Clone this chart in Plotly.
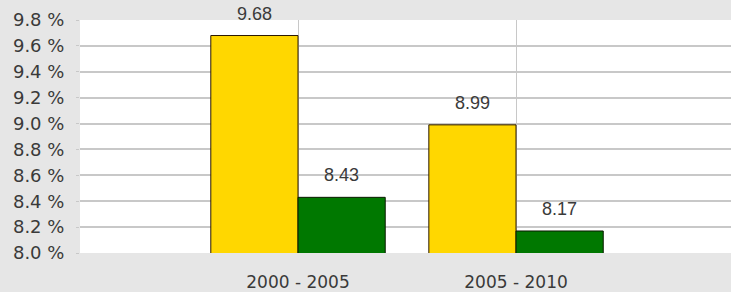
import plotly.graph_objects as go

categories = ["2000 - 2005", "2005 - 2010"]
series_a = [9.68, 8.99]
series_b = [8.43, 8.17]
y_ticks = [8.0, 8.2, 8.4, 8.6, 8.8, 9.0, 9.2, 9.4, 9.6, 9.8]
y_tick_labels = ["8.0 %", "8.2 %", "8.4 %", "8.6 %", "8.8 %", "9.0 %", "9.2 %", "9.4 %", "9.6 %", "9.8 %"]

fig = go.Figure()
fig.add_trace(go.Bar(x=categories, y=series_a, marker=dict(color="#FFD700", line=dict(color="#2a1800", width=1)),
                     hoverinfo="skip"))
fig.add_trace(go.Bar(x=categories, y=series_b, marker=dict(color="#007800", line=dict(color="#0a1a00", width=1)),
                     hoverinfo="skip"))

annotations = []
for vals, shift in ((series_a, -43.5), (series_b, 43.5)):
    for c, v in zip(categories, vals):
        annotations.append(dict(x=c, y=v, xref="x", yref="y", text=f"{v:.2f}", showarrow=False,
                                xshift=shift, yshift=10, yanchor="bottom",
                                font=dict(family="Liberation Sans, Arial", size=18, color="#3a3a3a")))

fig.update_layout(
    width=731, height=292,
    margin=dict(l=80, r=0, t=20, b=39),
    paper_bgcolor="#e6e6e6", plot_bgcolor="#ffffff",
    barmode="group", bargap=0.2, bargroupgap=0,
    showlegend=False,
    annotations=annotations,
    xaxis=dict(range=[-1, 1.986], showgrid=True, gridcolor="#c8c8c8", gridwidth=1,
               tickfont=dict(family="DejaVu Sans", size=17, color="#3a3a3a"), ticks="", zeroline=False,
               showline=False, ticklabelstandoff=17),
    yaxis=dict(range=[8.0, 9.8], tickvals=y_ticks, ticktext=y_tick_labels, showgrid=True,
               gridcolor="#c8c8c8", gridwidth=2, zeroline=False, showline=False,
               ticks="outside", ticklen=3, tickcolor="#c8c8c8", ticklabelstandoff=8,
               tickfont=dict(family="DejaVu Sans", size=18, color="#3a3a3a")),
)
fig.write_html("out.html", config={"displayModeBar": False},
               post_script="document.body.style.margin='0';document.body.style.overflow='hidden';")
